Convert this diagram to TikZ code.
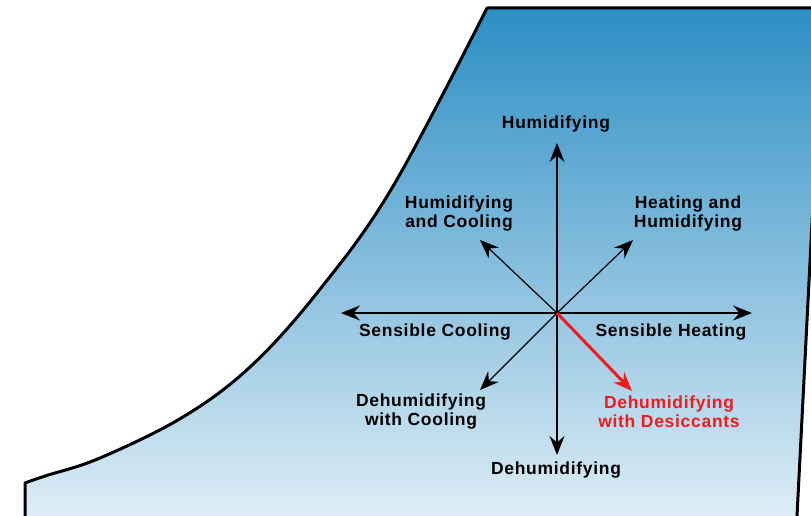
\documentclass[tikz,border=0pt]{standalone}
\usepackage{fontspec}
\setmainfont{Liberation Sans}[LetterSpace=4]
\usetikzlibrary{arrows.meta,positioning}
\definecolor{chartblue}{RGB}{44,142,196}
\definecolor{chartpale}{RGB}{226,239,247}
\definecolor{desred}{RGB}{245,25,30}

\begin{document}
\begin{tikzpicture}[x=1pt, y=-1pt, >={Stealth[length=19pt,width=15pt,inset=6.5pt]}, semithick]
\tikzstyle{every node}=[font=\bfseries\fontsize{17.5}{19}\selectfont, align=center, text=black, inner sep=1pt]
\tikzstyle{axis}=[->, line width=1.5pt]
\tikzstyle{slant}=[->, line width=1.2pt]
\useasboundingbox (0,0) rectangle (811,516);

% chart outline
\begin{scope}
\clip (0,0) rectangle (811,516);
\draw[line width=3pt, line join=round, top color=chartblue, bottom color=chartpale]
  (25,530) -- plot[smooth, tension=0.6] coordinates {(25,483) (45,476) (100,458) (183,417) (250,367) (317,293) (392,188) (487,8)}
  -- (823,8) -- (797,516) -- (797,530) -- cycle;
\end{scope}

% process directions
\coordinate (o) at (557,313);
\coordinate (up) at (557,143);
\coordinate (down) at (557,455);
\coordinate (left) at (341,313);
\coordinate (right) at (752,313);
\coordinate (nw) at (480,240);
\coordinate (ne) at (633,240);
\coordinate (sw) at (480,390);
\coordinate (se) at (632,391);

\node (hum)   at (556,124) {Humidifying};
\node (humc)  at (459,214) {Humidifying\\and Cooling};
\node (heath) at (688,214) {Heating and\\Humidifying};
\node (scool) at (435,332) {Sensible Cooling};
\node (sheat) at (671,332) {Sensible Heating};
\node (dehc)  at (421,412) {Dehumidifying\\with Cooling};
\node[text=desred] (dehd) at (669,412) {Dehumidifying\\with Desiccants};
\node (dehum) at (556,470) {Dehumidifying};

\draw[axis] (o) -- (up);
\draw[axis] (o) -- (down);
\draw[axis] (o) -- (left);
\draw[axis] (o) -- (right);
\draw[slant] (o) -- (nw);
\draw[slant] (o) -- (ne);
\draw[slant] (o) -- (sw);
\draw[->, line width=3pt, draw=desred] (o) -- (se);
\end{tikzpicture}
\end{document}
